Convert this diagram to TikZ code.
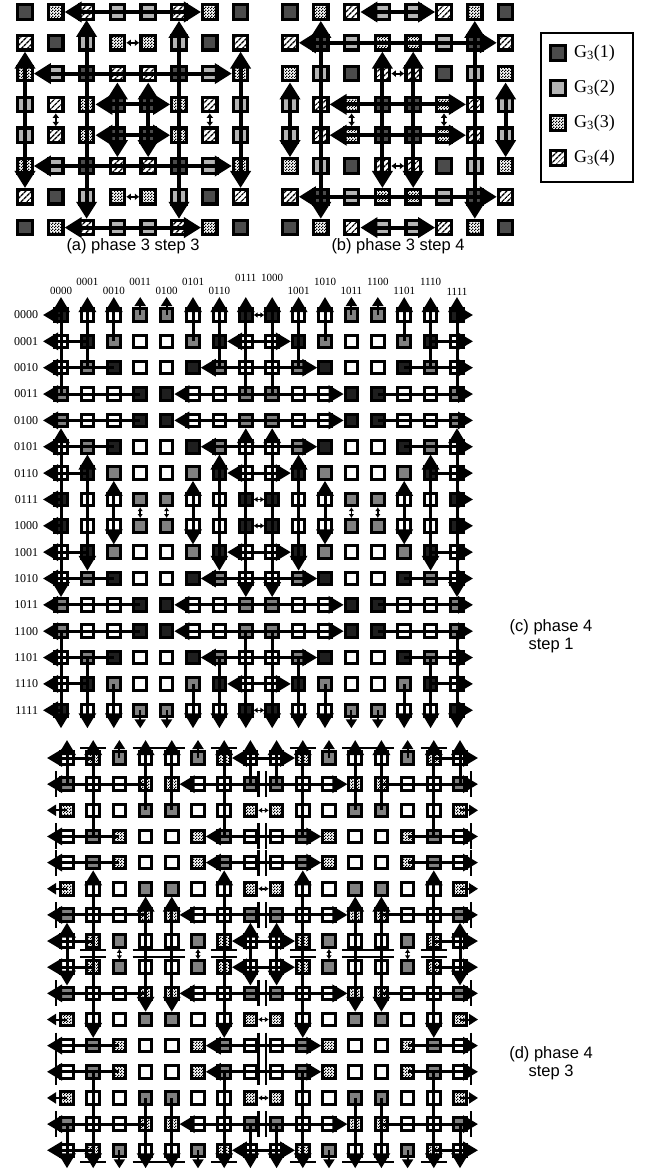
\documentclass[tikz,border=0pt]{standalone}
\usepackage{fontspec}
\setmainfont{Liberation Serif}
\newfontfamily\capfont{Liberation Sans}
\usetikzlibrary{arrows.meta, patterns.meta, positioning}

\pgfdeclarepattern{
  name=finecheck,
  type=uncolored,
  bottom left={\pgfpoint{0pt}{0pt}},
  top right={\pgfpoint{3pt}{3pt}},
  tile size={\pgfpoint{3pt}{3pt}},
  code={
    \pgfpathrectangle{\pgfpointorigin}{\pgfpoint{1.5pt}{1.5pt}}
    \pgfpathrectangle{\pgfpoint{1.5pt}{1.5pt}}{\pgfpoint{1.5pt}{1.5pt}}
    \pgfusepath{fill}
  }
}

\definecolor{darkA}{HTML}{4B4B4B}
\definecolor{lightA}{HTML}{B4B4B4}
\definecolor{darkC}{HTML}{1E1E1E}
\definecolor{grayC}{HTML}{808080}

\tikzset{
  sqa/.style={rectangle, draw, line width=3.2pt, minimum size=14.5pt, inner sep=0pt},
  sqc/.style={rectangle, draw, line width=3pt, minimum size=12.5pt, inner sep=0pt},
  g1/.style={fill=darkA},
  g2/.style={fill=lightA},
  g3/.style={pattern=finecheck},
  g4/.style={pattern={Lines[angle=45,distance=4pt,line width=1.4pt]}},
  q0/.style={fill=white},
  q1/.style={fill=darkC},
  q2/.style={fill=grayC},
  q3/.style={pattern=finecheck},
  twoA/.style={line width=4pt, {Triangle[length=17pt,width=20pt]}-{Triangle[length=17pt,width=20pt]}},
  tinyA/.style={line width=1.8pt, {Latex[length=4.5pt,width=7pt]}-{Latex[length=4.5pt,width=7pt]}},
  outC/.style={line width=3pt, -{Triangle[length=15pt,width=17pt]}},
  twoC/.style={line width=3pt, {Triangle[length=15pt,width=17pt]}-{Triangle[length=15pt,width=17pt]}},
  stubC/.style={line width=2pt, -{Triangle[length=9pt,width=11pt]}},
  tinyC/.style={line width=1.5pt, {Latex[length=4pt,width=5.5pt]}-{Latex[length=4pt,width=5.5pt]}},
  barD/.style={line width=2.4pt},
  caption/.style={font=\capfont\fontsize{16.5}{18}\selectfont, align=center},
  binlab/.style={font=\fontsize{11}{12}\selectfont, inner sep=0pt},
}

\begin{document}
\begin{tikzpicture}[x=1pt, y=-1pt]
  \useasboundingbox (0,0) rectangle (648,1173);

  % (a) and (b): 8x8 meshes, phase 3
  \foreach \p/\x in {a/25, b/290}
    \foreach \rr in {0,...,7}
      \foreach \cc in {0,...,7}{
        \pgfmathtruncatemacro\fa{min(\rr,7-\rr)}
        \pgfmathtruncatemacro\fb{min(\cc,7-\cc)}
        \pgfmathtruncatemacro\ty{{1,3,4,2,4,1,2,3,3,2,1,4,2,4,3,1}[4*\fa+\fb]}
        \node[sqa, g\ty] (\p-\rr-\cc) at (\x+30.8*\cc, 12+30.8*\rr) {};
      }

  % (a) links
  \foreach \rr/\ca/\cb in {0/1/6, 7/1/6, 2/0/7, 5/0/7, 3/2/5, 4/2/5}{
    \draw[twoA] (a-\rr-\ca.east) -- (a-\rr-\cb.west);
    \draw[twoA] (a-\ca-\rr.south) -- (a-\cb-\rr.north);
  }
  \foreach \rr in {1,6}{
    \draw[tinyA] (a-\rr-3.east) -- (a-\rr-4.west);
    \draw[tinyA] (a-3-\rr.south) -- (a-4-\rr.north);
  }

  % (b) links
  \foreach \rr/\ca/\cb in {0/2/5, 7/2/5, 1/0/7, 6/0/7, 3/1/6, 4/1/6}{
    \draw[twoA] (b-\rr-\ca.east) -- (b-\rr-\cb.west);
    \draw[twoA] (b-\ca-\rr.south) -- (b-\cb-\rr.north);
  }
  \foreach \rr in {2,5}{
    \draw[tinyA] (b-\rr-3.east) -- (b-\rr-4.west);
    \draw[tinyA] (b-3-\rr.south) -- (b-4-\rr.north);
  }

  % Legend
  \draw[line width=2.5pt] (541,33) rectangle (633,182);
  \foreach \k/\yy in {1/53, 2/88, 3/123, 4/158}{
    \node[sqa, g\k] (key\k) at (558,\yy) {};
    \node[right=7pt of key\k, inner sep=0pt, font=\fontsize{18}{20}\selectfont] (keytext\k) {G\textsubscript{3}(\k)};
  }

  \node[caption] (capa) at (133,246) {(a) phase 3 step 3};
  \node[caption] (capb) at (398,246) {(b) phase 3 step 4};

  % (c): 16x16 mesh, phase 4 step 1
  \foreach \rr in {0,...,15}
    \foreach \cc in {0,...,15}{
      \pgfmathtruncatemacro\fa{min(mod(\rr,8),7-mod(\rr,8))}
      \pgfmathtruncatemacro\fb{min(mod(\cc,8),7-mod(\cc,8))}
      \pgfmathtruncatemacro\ty{{1,0,0,2,0,1,2,0,0,2,1,0,2,0,0,1}[4*\fa+\fb]}
      \node[sqc, q\ty] (c-\rr-\cc) at (61+26.4*\cc, 315+26.35*\rr) {};
    }
  \foreach \ii in {0,...,15}{
    \coordinate[left=18pt of c-\ii-0.center] (cW\ii);
    \coordinate[right=16pt of c-\ii-15.center] (cE\ii);
    \coordinate[above=18pt of c-0-\ii.center] (cN\ii);
    \coordinate[below=18pt of c-15-\ii.center] (cS\ii);
  }
  \foreach \rr/\lab in {0/0000, 1/0001, 2/0010, 3/0011, 4/0100, 5/0101, 6/0110, 7/0111,
                        8/1000, 9/1001, 10/1010, 11/1011, 12/1100, 13/1101, 14/1110, 15/1111}
    \node[binlab, font=\fontsize{12}{13}\selectfont, left=15pt of c-\rr-0] {\lab};
  \foreach \cc/\lab/\dd in {0/0000/12, 1/0001/21, 2/0010/12, 3/0011/21, 4/0100/12, 5/0101/21,
                            6/0110/12, 7/0111/25, 8/1000/25, 9/1001/12, 10/1010/21, 11/1011/12,
                            12/1100/21, 13/1101/12, 14/1110/21, 15/1111/12}
    \node[binlab, above=\dd pt of c-0-\cc] {\lab};

  % (c) row links
  \foreach \ii in {0,...,15}{
    \pgfmathtruncatemacro\ff{min(mod(\ii,8),7-mod(\ii,8))}
    \pgfmathtruncatemacro\kk{{0,1,2,3}[\ff]}
    \pgfmathtruncatemacro\ka{7-\kk}
    \pgfmathtruncatemacro\kb{8+\kk}
    \pgfmathtruncatemacro\kc{15-\kk}
    \draw[outC] (c-\ii-\kk.center) -- (cW\ii);
    \draw[outC] (c-\ii-\kc.center) -- (cE\ii);
    \ifnum\kk=0
      \draw[tinyC] (c-\ii-7.east) -- (c-\ii-8.west);
    \else
      \draw[twoC] (c-\ii-\ka.east) -- (c-\ii-\kb.west);
    \fi
  }
  % (c) column links
  \foreach \ii in {0,...,15}{
    \pgfmathtruncatemacro\ff{min(mod(\ii,8),7-mod(\ii,8))}
    \pgfmathtruncatemacro\kk{{3,2,1,0}[\ff]}
    \pgfmathtruncatemacro\ka{7-\kk}
    \pgfmathtruncatemacro\kb{8+\kk}
    \pgfmathtruncatemacro\kc{15-\kk}
    \ifnum\kk=0
      \draw[stubC] (c-0-\ii.center) -- (cN\ii);
      \draw[stubC] (c-15-\ii.center) -- (cS\ii);
      \draw[tinyC] (c-7-\ii.south) -- (c-8-\ii.north);
    \else
      \draw[outC] (c-\kk-\ii.center) -- (cN\ii);
      \draw[outC] (c-\kc-\ii.center) -- (cS\ii);
      \draw[twoC] (c-\ka-\ii.south) -- (c-\kb-\ii.north);
    \fi
  }
  \node[caption] (capc) at (551,636) {(c) phase 4\\step 1};

  % (d): 16x16 mesh, phase 4 step 3
  \foreach \rr in {0,...,15}
    \foreach \cc in {0,...,15}{
      \pgfmathtruncatemacro\fa{min(mod(\rr,8),7-mod(\rr,8))}
      \pgfmathtruncatemacro\fb{min(mod(\cc,8),7-mod(\cc,8))}
      \pgfmathtruncatemacro\ty{{0,3,2,0,2,0,0,3,3,0,0,2,0,2,3,0}[4*\fa+\fb]}
      \node[sqc, q\ty] (d-\rr-\cc) at (67+26.2*\cc, 758+26.15*\rr) {};
    }
  \foreach \ii in {0,...,15}{
    \coordinate[left=20pt of d-\ii-0.center] (dW\ii);
    \coordinate[right=18pt of d-\ii-15.center] (dE\ii);
    \coordinate[above=18pt of d-0-\ii.center] (dN\ii);
    \coordinate[below=18pt of d-15-\ii.center] (dS\ii);
  }
  % (d) break marks at the quadrant edges
  \foreach \ii in {1,3,4,6,9,11,12,14}{
    \coordinate[left=11pt of d-\ii-0.center] (dL\ii);
    \coordinate[right=11pt of d-\ii-15.center] (dR\ii);
    \coordinate[right=8pt of d-\ii-7.center] (dML\ii);
    \coordinate[left=10.5pt of d-\ii-8.center] (dMR\ii);
    \coordinate[above=10pt of d-0-\ii.center] (dT\ii);
    \coordinate[below=12pt of d-15-\ii.center] (dB\ii);
    \coordinate[below=9pt of d-7-\ii.center] (dMT\ii);
    \coordinate[above=10pt of d-8-\ii.center] (dMB\ii);
    \foreach \q in {dL, dR, dML, dMR}
      \draw[barD] ([yshift=13pt]\q\ii) -- ([yshift=-13pt]\q\ii);
    \foreach \q in {dT, dB, dMT, dMB}
      \draw[barD] ([xshift=-13pt]\q\ii) -- ([xshift=13pt]\q\ii);
  }
  % (d) row and column links
  \foreach \ii in {0,...,15}{
    \pgfmathtruncatemacro\ff{min(mod(\ii,8),7-mod(\ii,8))}
    \pgfmathtruncatemacro\kk{{1,3,0,2}[\ff]}
    \pgfmathtruncatemacro\ka{7-\kk}
    \pgfmathtruncatemacro\kb{8+\kk}
    \pgfmathtruncatemacro\kc{15-\kk}
    \ifnum\kk=0
      \draw[stubC] (d-\ii-0.center) -- (dW\ii);
      \draw[stubC] (d-\ii-15.center) -- (dE\ii);
      \draw[tinyC] (d-\ii-7.east) -- (d-\ii-8.west);
      \draw[stubC] (d-0-\ii.center) -- (dN\ii);
      \draw[stubC] (d-15-\ii.center) -- (dS\ii);
      \draw[tinyC] (d-7-\ii.south) -- (d-8-\ii.north);
    \else
      \draw[outC] (d-\ii-\kk.center) -- (dW\ii);
      \draw[outC] (d-\ii-\kc.center) -- (dE\ii);
      \draw[twoC] (d-\ii-\ka.east) -- (d-\ii-\kb.west);
      \draw[outC] (d-\kk-\ii.center) -- (dN\ii);
      \draw[outC] (d-\kc-\ii.center) -- (dS\ii);
      \draw[twoC] (d-\ka-\ii.south) -- (d-\kb-\ii.north);
    \fi
  }
  \node[caption] (capd) at (551,1063) {(d) phase 4\\step 3};
\end{tikzpicture}
\end{document}
